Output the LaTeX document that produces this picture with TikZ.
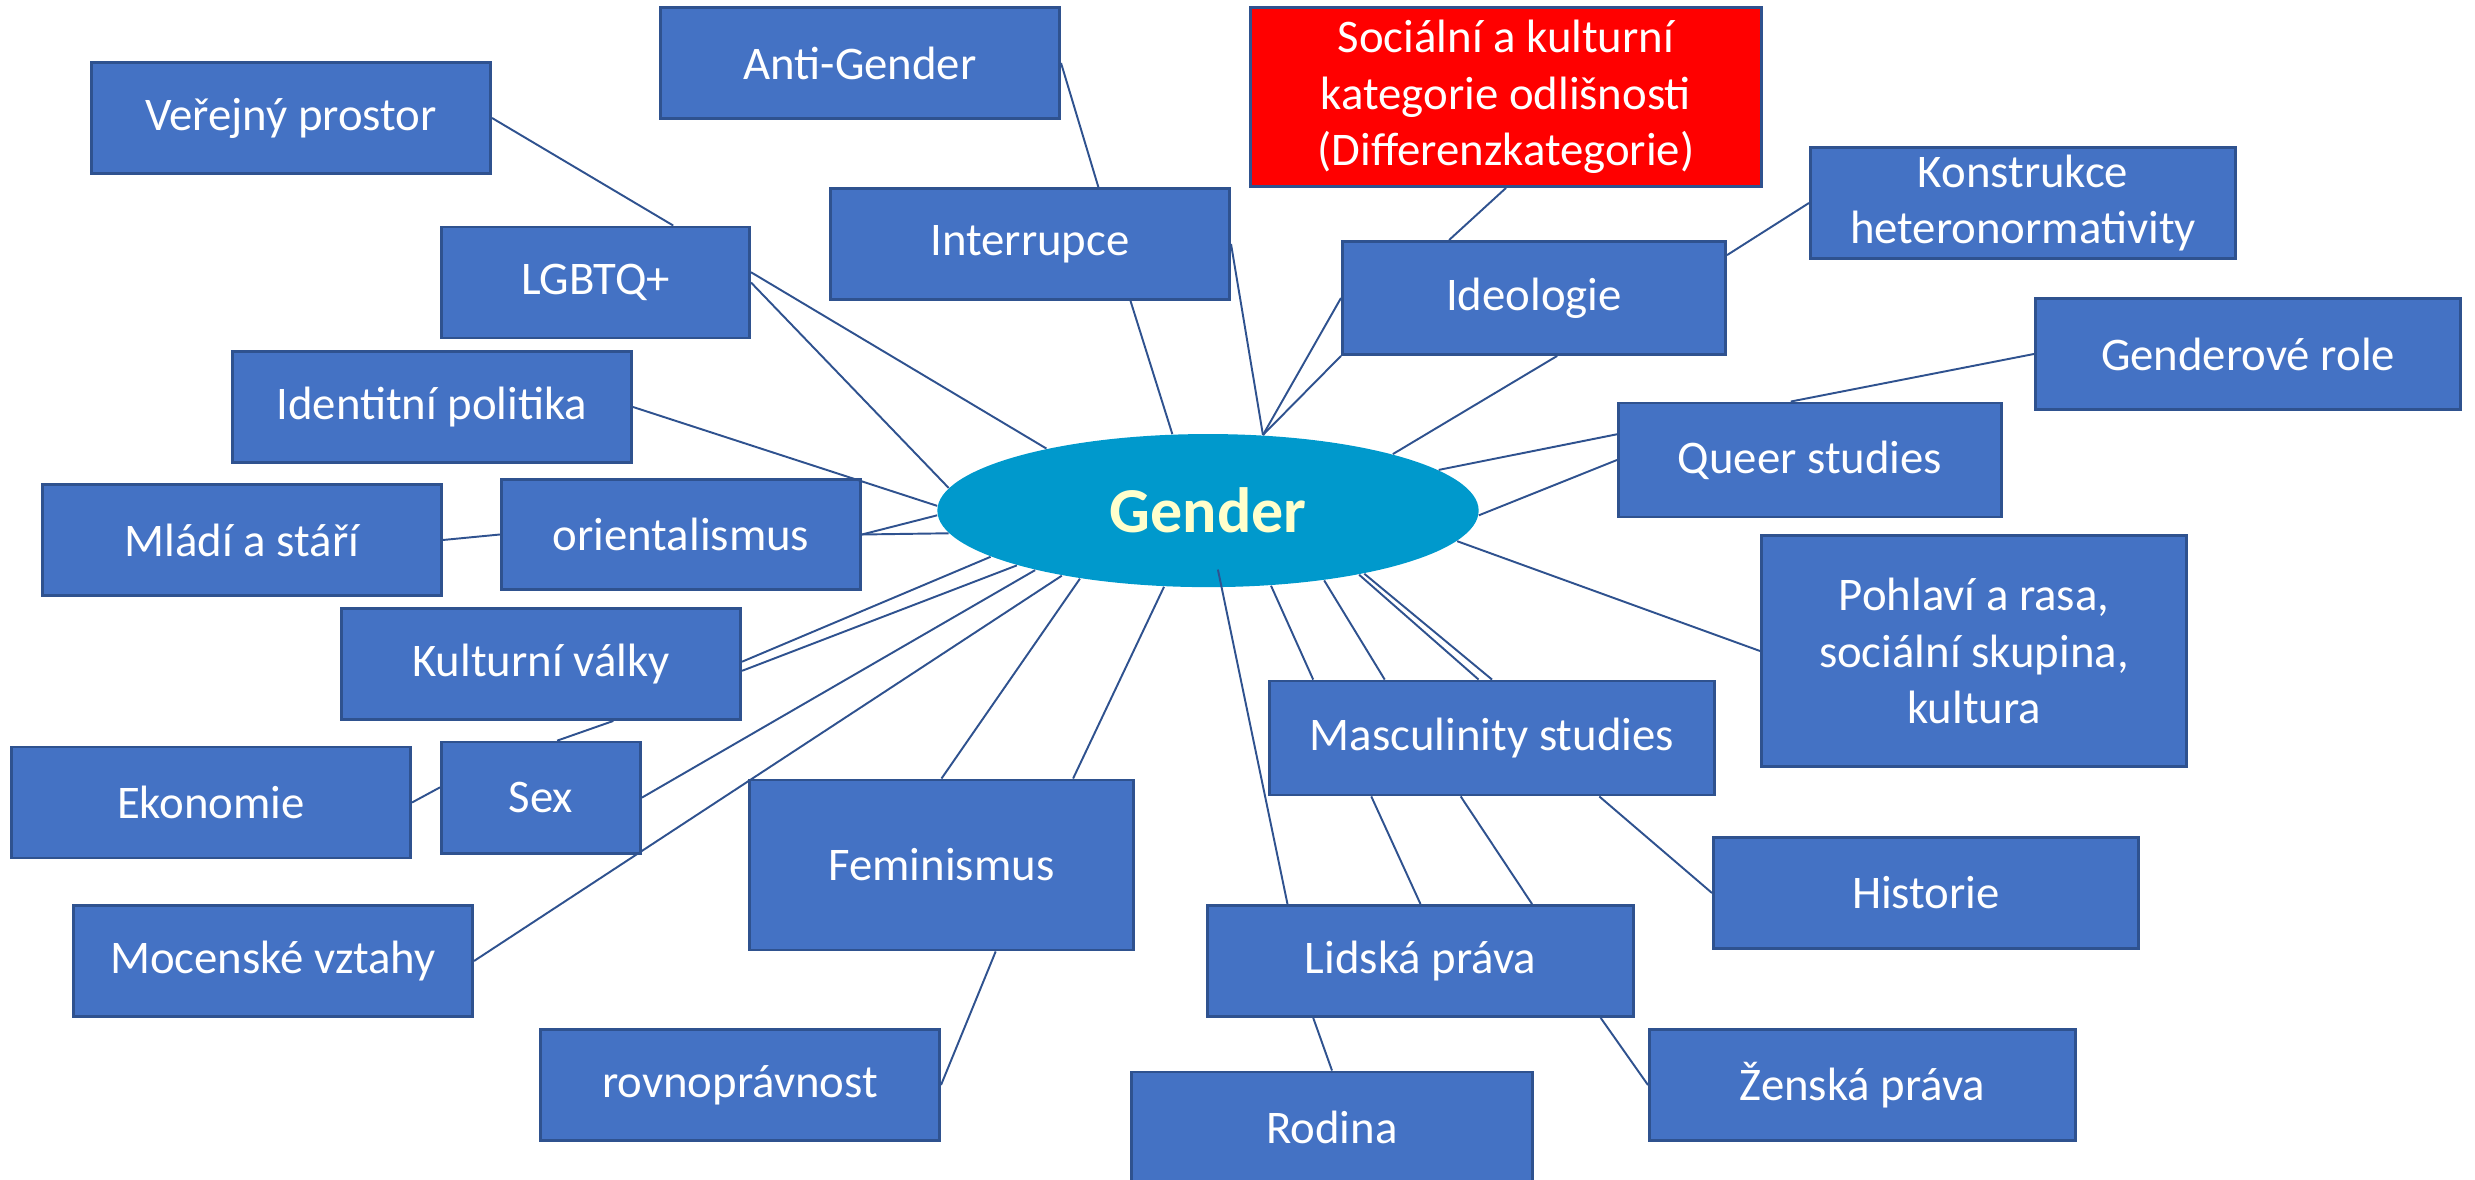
\documentclass[tikz,border=0pt]{standalone}
\usepackage{fontspec}
\setmainfont{Carlito}
\usetikzlibrary{shapes.geometric,calc}
\definecolor{boxblue}{HTML}{4472C4}
\definecolor{boxedge}{HTML}{2F528F}
\definecolor{hubblue}{HTML}{0099CC}
\definecolor{hubtext}{HTML}{FFFFCC}
\definecolor{linkblue}{HTML}{2F528F}

\begin{document}
\begin{tikzpicture}[x=0.01cm,y=-0.01cm]
        % Styles
        \tikzstyle{topic}=[rectangle,draw=boxedge,fill=boxblue,line width=0.8pt,text=white,align=center,inner sep=0pt,minimum width=3.99cm,minimum height=1.11cm,font=\fontsize{13.3}{16}\selectfont]
        \tikzstyle{hot topic}=[topic,fill=red]
        \tikzstyle{hub}=[ellipse,fill=hubblue,inner sep=0pt,minimum width=5.41cm,minimum height=1.53cm,text=hubtext,font=\fontsize{18.2}{22}\selectfont\bfseries]
        \tikzstyle{link}=[draw=linkblue,line width=0.55pt]
        %frame
        \useasboundingbox (0,0) rectangle (2475,1180);
        %the hub
        \node[hub] (gender) at (1208,510.6) {Gender};
        \coordinate (gender inner) at ($(gender.center)+(9.9,59)$);
        %topics, top to bottom
        \node[topic] (verejny) at (291,118) {Veřejný prostor};
        \node[topic] (antigender) at (860,63) {Anti-Gender};
        \node[hot topic,minimum width=5.10cm,minimum height=1.79cm] (kategorie) at (1506,97) {Sociální a kulturní\\kategorie odlišnosti\\(Differenzkategorie)};
        \node[topic,minimum width=4.25cm] (konstrukce) at (2023,203) {Konstrukce\\heteronormativity};
        \node[topic,minimum width=3.08cm] (lgbt) at (595.5,282.5) {LGBTQ+};
        \node[topic] (interrupce) at (1030,244) {Interrupce};
        \node[topic,minimum width=3.83cm,minimum height=1.13cm] (ideologie) at (1534,298) {Ideologie};
        \node[topic,minimum width=4.25cm] (genderove) at (2248,354) {Genderové role};
        \node[topic] (identitni) at (432,407) {Identitní politika};
        \node[topic,minimum width=3.83cm,minimum height=1.14cm] (queer) at (1810,460) {Queer studies};
        \node[topic] (mladi) at (242,540) {Mládí a stáří};
        \node[topic,minimum width=3.59cm,minimum height=1.10cm] (orientalismus) at (681,534.5) {orientalismus};
        \node[topic,minimum width=4.25cm,minimum height=2.31cm] (pohlavi) at (1974,651) {Pohlaví a rasa,\\sociální skupina,\\kultura};
        \node[topic] (kulturni) at (541,664) {Kulturní války};
        \node[topic,minimum width=4.44cm,minimum height=1.14cm] (masculinity) at (1492,738) {Masculinity studies};
        \node[topic] (ekonomie) at (211,802.5) {Ekonomie};
        \node[topic,minimum width=1.99cm] (sex) at (541,797.6) {Sex};
        \node[topic,minimum width=3.84cm,minimum height=1.70cm] (feminismus) at (941.5,865) {Feminismus};
        \node[topic,minimum width=4.25cm] (historie) at (1926,893) {Historie};
        \node[topic] (mocenske) at (273,961) {Mocenské vztahy};
        \node[topic,minimum width=4.26cm] (lidska) at (1420.5,961) {Lidská práva};
        \node[topic] (rovnopravnost) at (740,1085) {rovnoprávnost};
        \node[topic,minimum width=4.26cm] (zenska) at (1862.5,1085) {Ženská práva};
        \node[topic,minimum width=4.00cm] (rodina) at (1332,1127.5) {Rodina};
        %links to the hub
        \foreach \from/\ang in {interrupce.east/54, ideologie.west/54, ideologie.south west/54, queer.west/359, pohlavi.west/353, lgbt.east/175, identitni.east/179, orientalismus.east/181, orientalismus.east/185, sex.east/199, mocenske.east/204, feminismus.north/208, masculinity.north/338}
            \draw[link] (\from) -- (gender.\ang);
        \draw[link] ($(interrupce.south west)!0.75!(interrupce.south east)$) -- (gender.115);
        \draw[link] ($(ideologie.south west)!0.56!(ideologie.south east)$) -- (gender.17);
        \draw[link] ($(queer.north west)!0.28!(queer.south west)$) -- (gender.10);
        \draw[link] ($(lgbt.north east)!0.41!(lgbt.south east)$) -- (gender.159);
        \draw[link] ($(kulturni.north east)!0.48!(kulturni.south east)$) -- (gender.192);
        \draw[link] ($(kulturni.north east)!0.56!(kulturni.south east)$) -- (gender.196);
        \draw[link] ($(feminismus.north west)!0.84!(feminismus.north east)$) -- (gender.240);
        \draw[link] ($(lidska.north west)!0.19!(lidska.north east)$) -- (gender inner);
        \draw[link] ($(masculinity.north west)!0.10!(masculinity.north east)$) -- (gender.310);
        \draw[link] ($(masculinity.north west)!0.26!(masculinity.north east)$) -- (gender.329);
        \draw[link] ($(masculinity.north west)!0.47!(masculinity.north east)$) -- (gender.337);
        %links between topics
        \draw[link] (verejny.east) -- ($(lgbt.north west)!0.75!(lgbt.north east)$);
        \draw[link] (antigender.east) -- ($(interrupce.north west)!0.67!(interrupce.north east)$);
        \draw[link] (kategorie.south) -- ($(ideologie.north west)!0.28!(ideologie.north east)$);
        \draw[link] (konstrukce.west) -- ($(ideologie.north east)!0.13!(ideologie.south east)$);
        \draw[link] (genderove.west) -- ($(queer.north west)!0.45!(queer.north east)$);
        \draw[link] (mladi.east) -- (orientalismus.west);
        \draw[link] ($(kulturni.south west)!0.68!(kulturni.south east)$) -- ($(sex.north west)!0.58!(sex.north east)$);
        \draw[link] (ekonomie.east) -- ($(sex.north west)!0.41!(sex.south west)$);
        \draw[link] ($(feminismus.south west)!0.64!(feminismus.south east)$) -- (rovnopravnost.east);
        \draw[link] ($(masculinity.south west)!0.23!(masculinity.south east)$) -- (lidska.north);
        \draw[link] ($(masculinity.south west)!0.43!(masculinity.south east)$) -- ($(lidska.north west)!0.76!(lidska.north east)$);
        \draw[link] ($(masculinity.south west)!0.74!(masculinity.south east)$) -- (historie.west);
        \draw[link] ($(lidska.south west)!0.25!(lidska.south east)$) -- (rodina.north);
        \draw[link] ($(lidska.south west)!0.92!(lidska.south east)$) -- (zenska.west);
\end{tikzpicture}
\end{document}
